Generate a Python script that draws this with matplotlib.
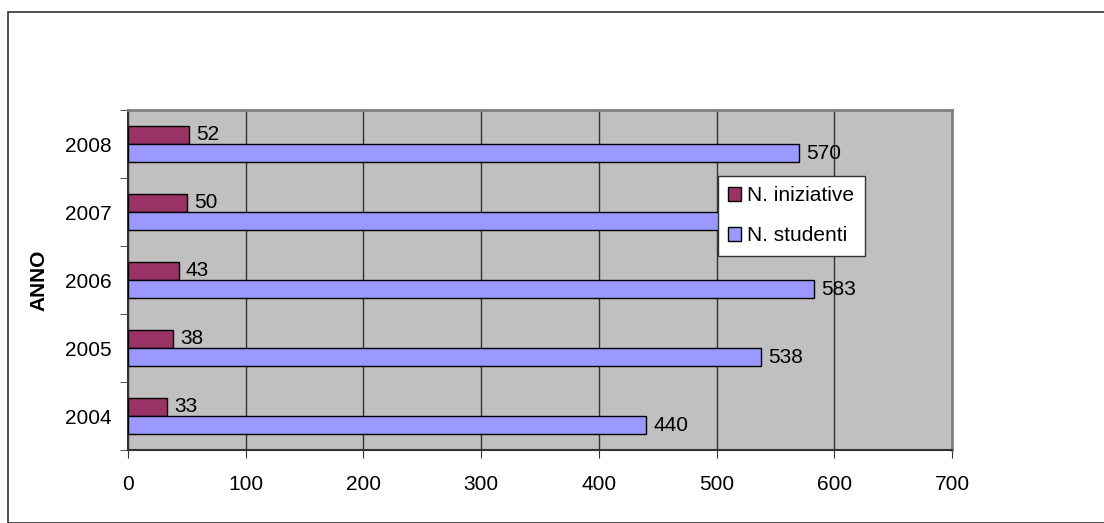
import matplotlib
matplotlib.use('Agg')
import matplotlib.pyplot as plt
from matplotlib.patches import Rectangle
import numpy as np

plt.rcParams['font.family'] = ['Liberation Sans', 'DejaVu Sans']

years = ['2004', '2005', '2006', '2007', '2008']
iniziative = [33, 38, 43, 50, 52]
studenti = [440, 538, 583, 560, 570]   # 2007 is hidden behind the legend in the original, estimated
x_ticks = [0, 100, 200, 300, 400, 500, 600, 700]

fig = plt.figure(figsize=(11.04, 5.23), dpi=100)
# outer chart frame
fig.patches.append(Rectangle((8/1104., 0), 1.2, 1-12/523., transform=fig.transFigure,
                             fill=False, edgecolor='#333333', lw=1.2, zorder=0))

ax = fig.add_axes([128/1104., 1-450/523., (952-128)/1104., (450-110)/523.])
ax.set_facecolor('#C0C0C0')

y = np.arange(len(years))
h = 0.27
b1 = ax.barh(y + h/2, iniziative, height=h, color='#993366', edgecolor='black', lw=1, label='N. iniziative', zorder=3)
b2 = ax.barh(y - h/2, studenti, height=h, color='#9999FF', edgecolor='black', lw=1, label='N. studenti', zorder=3)
for bars, vals, hidden in ((b1, iniziative, []), (b2, studenti, ['2007'])):
    for bar, v, yr in zip(bars, vals, years):
        if yr in hidden:
            # label covered by the legend in the original
            continue
        ax.text(v + 6, bar.get_y() + bar.get_height()/2, str(v), va='center', ha='left', fontsize=15, zorder=4)

ax.set_xlim(0, 700)
ax.set_ylim(-0.5, len(years) - 0.5)
ax.set_xticks(x_ticks)
ax.set_yticks(y)
ax.set_yticklabels(years)
ax.set_yticks(np.arange(-0.5, len(years)), minor=True)
ax.tick_params(axis='y', which='major', length=0, pad=12, labelsize=15)
ax.tick_params(axis='y', which='minor', length=6, color='#333333', direction='out')
ax.tick_params(axis='x', length=6, color='#333333', direction='out', pad=12, labelsize=15)
ax.xaxis.grid(True, color='#333333', lw=1, zorder=1)
ax.set_axisbelow(True)
for s in ('left', 'bottom'):
    ax.spines[s].set_color('#333333')
    ax.spines[s].set_linewidth(1.5)
for s in ('top', 'right'):
    ax.spines[s].set_color('#808080')
    ax.spines[s].set_linewidth(2)
ax.set_ylabel('ANNO', fontsize=15, fontweight='bold', labelpad=12)

leg = ax.legend(handles=[b1, b2], loc='upper left', bbox_to_anchor=(718/1104., 1-176/523.),
                bbox_transform=fig.transFigure, fontsize=15, frameon=True, fancybox=False,
                framealpha=1, edgecolor='#333333', handlelength=0.6, handleheight=0.6,
                handletextpad=0.3, labelspacing=1.0, borderpad=0.5, borderaxespad=0)
leg.get_frame().set_linewidth(1)
leg.set_zorder(10)

fig.savefig('out.png', dpi=100)
